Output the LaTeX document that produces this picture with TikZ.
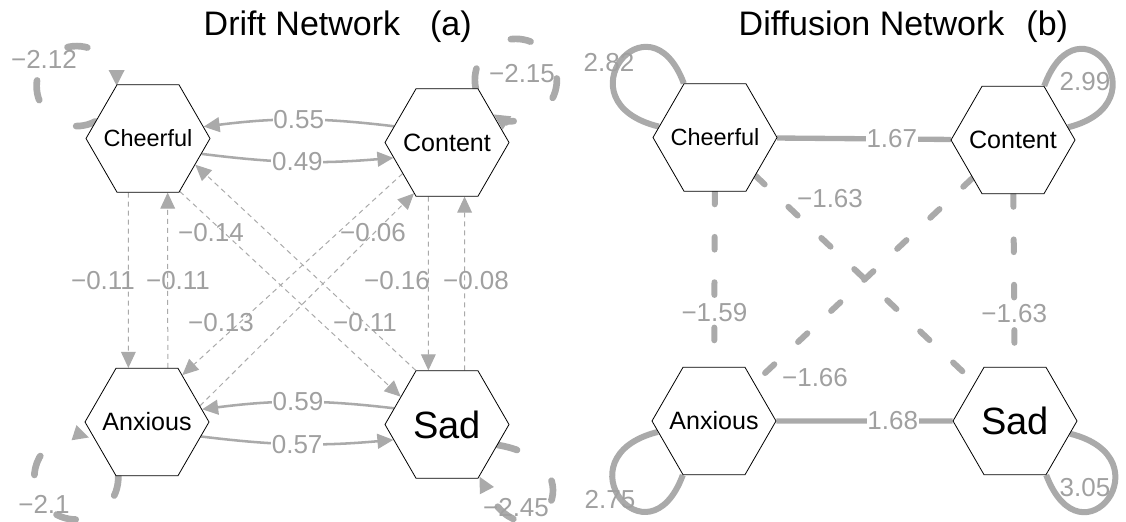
\documentclass[tikz,border=0pt]{standalone}
\usepackage{fontspec}
\setmainfont{Liberation Sans}
\usetikzlibrary{shapes.geometric,arrows.meta}
\definecolor{edgegray}{RGB}{170,170,170}
\definecolor{labgray}{RGB}{160,160,160}
\pgfdeclarelayer{edgelayer}
\pgfsetlayers{edgelayer,main}
\newcommand{\nodetext}[1]{\makebox[0pt]{#1}}
\begin{document}
\begin{tikzpicture}[x=0.75pt,y=0.75pt,
 hexnode/.style={regular polygon,regular polygon sides=6,minimum size=93pt,inner sep=0pt,draw=black,line width=0.6pt,fill=white},
 arrowtip/.style={-{Triangle[length=12pt,width=11pt]}},
 solidarr/.style={draw=edgegray,line width=1.9pt,arrowtip},
 thinarr/.style={draw=edgegray,line width=0.75pt,dash pattern=on 3.75pt off 3pt,arrowtip},
 loopa/.style={draw=edgegray,line width=5pt,line cap=round,dash pattern=on 15pt off 36pt,arrowtip},
 loopb/.style={draw=edgegray,line width=4.5pt},
 solidb/.style={draw=edgegray,line width=4pt},
 dashb/.style={draw=edgegray,line width=4.5pt,line cap=round,dash pattern=on 9.5pt off 24.5pt},
 lab/.style={text=labgray,font={\fontsize{19.5}{20}\selectfont},inner sep=0.5pt},
 labbg/.style={lab,fill=white},
 title/.style={anchor=base west,font={\fontsize{25.5}{26}\selectfont}},
 smallname/.style={font={\fontsize{17.6}{18}\selectfont}},
 midname/.style={font={\fontsize{18.8}{19}\selectfont}},
 bigname/.style={font={\fontsize{28.5}{29}\selectfont}},
]
\useasboundingbox (0,0) rectangle (1126,521);

% titles
\node[title] (titleA) at (199,485) {Drift Network\hspace{22.5pt}(a)};
\node[title] (titleB) at (734,485) {Diffusion Network\hspace{16.5pt}(b)};

% nodes, panel a
\node[hexnode,smallname] (cheerA) at (148,382.5) {\nodetext{Cheerful}};
\node[hexnode,midname]   (contA)  at (447,378.5) {\nodetext{Content}};
\node[hexnode,midname]   (anxA)   at (147,99)    {\nodetext{Anxious}};
\node[hexnode,bigname]   (sadA)   at (447,96.5)  {\nodetext{Sad}};
% nodes, panel b
\node[hexnode,smallname] (cheerB) at (715,383.5) {\nodetext{Cheerful}};
\node[hexnode,midname]   (contB)  at (1013,381)  {\nodetext{Content}};
\node[hexnode,midname]   (anxB)   at (714,100)   {\nodetext{Anxious}};
\node[hexnode,bigname]   (sadB)   at (1015,100)  {\nodetext{Sad}};

\begin{pgfonlayer}{edgelayer}
% panel a: solid arrows
\draw[solidarr] (contA.163.5) to[bend right=7] node[labbg] (l055) {0.55} (cheerA.12);
\draw[solidarr] (cheerA.-16) to[bend right=6] node[labbg] (l049) {0.49} (contA.196.5);
\draw[solidarr] (sadA.163.5) to[bend right=7] node[labbg] (l059) {0.59} (anxA.13);
\draw[solidarr] (anxA.-15.5) to[bend right=6] node[labbg] (l057) {0.57} (sadA.196.5);
% panel a: thin dashed arrows
\draw[thinarr] (cheerA.-110.5) -- (anxA.109.4);
\draw[thinarr] (anxA.69.7) -- (cheerA.-70.4);
\draw[thinarr] (contA.-109.6) -- (sadA.109.6);
\draw[thinarr] (sadA.72.4) -- (contA.-72.4);
\draw[thinarr] (sadA.120.9) -- (cheerA.-29.4);
\draw[thinarr] (cheerA.-59.7) -- (sadA.149.4);
\draw[thinarr] (anxA.17.8) -- (contA.-123.9);
\draw[thinarr] (contA.-145.7) -- (anxA.53.4);
% panel a: self loops
\draw[loopa] (cheerA.162) arc[start angle=-62,delta angle=-298,radius=40];
\draw[loopa] (contA.62) arc[start angle=192,delta angle=-315,radius=41];
\draw[loopa] (anxA.-118) arc[start angle=2,delta angle=-290,radius=42];
\draw[loopa] (sadA.-22) .. controls (605,57.3) and (530.8,-53.8) .. (sadA.-58);

% panel b: edges
\draw[solidb] (cheerB) -- node[labbg,pos=0.66] (l167) {1.67} (contB);
\draw[solidb] (anxB) -- node[labbg,pos=0.66] (l168) {1.68} (sadB);
\draw[dashb] (cheerB) -- node[labbg,pos=0.69] (l159) {−1.59} (anxB);
\draw[dashb] (contB) -- node[labbg,pos=0.69] (l163r) {−1.63} (sadB);
\draw[dashb] (cheerB) -- (sadB);
\draw[dashb] (contB) -- (anxB);
% panel b: self loops
\draw[loopb] (cheerB.169) .. controls (558,419) and (649,531) .. (cheerB.120);
\draw[loopb] (contB.60) .. controls (1079,529) and (1165,418) .. (contB.13);
\draw[loopb] (anxB.191.5) .. controls (558,64) and (648,-48) .. (anxB.240);
\draw[loopb] (sadB.-60) .. controls (1082,-48) and (1168,63) .. (sadB.-13);
\end{pgfonlayer}

% panel a: labels
\node[lab] (la1) at (103,240) {−0.11};
\node[lab] (la2) at (178,240) {−0.11};
\node[lab] (la3) at (397,240) {−0.16};
\node[lab] (la4) at (476,240) {−0.08};
\node[lab] (la5) at (211,288) {−0.14};
\node[lab] (la6) at (373,288) {−0.06};
\node[lab] (la7) at (221,198) {−0.13};
\node[lab] (la8) at (365,198) {−0.11};
\node[lab] (la9) at (44,462) {−2.12};
\node[lab] (la10) at (522,447) {−2.15};
\node[lab] (la11) at (44,17) {−2.1};
\node[lab] (la12) at (516,13) {−2.45};
% panel b: labels
\node[lab] (lb1) at (609,458) {2.82};
\node[lab] (lb2) at (1085,439) {2.99};
\node[lab] (lb3) at (610,21) {2.75};
\node[lab] (lb4) at (1085,33) {3.05};
\node[lab] (lb5) at (830,322) {−1.63};
\node[lab] (lb6) at (815,143) {−1.66};
\end{tikzpicture}
\end{document}
